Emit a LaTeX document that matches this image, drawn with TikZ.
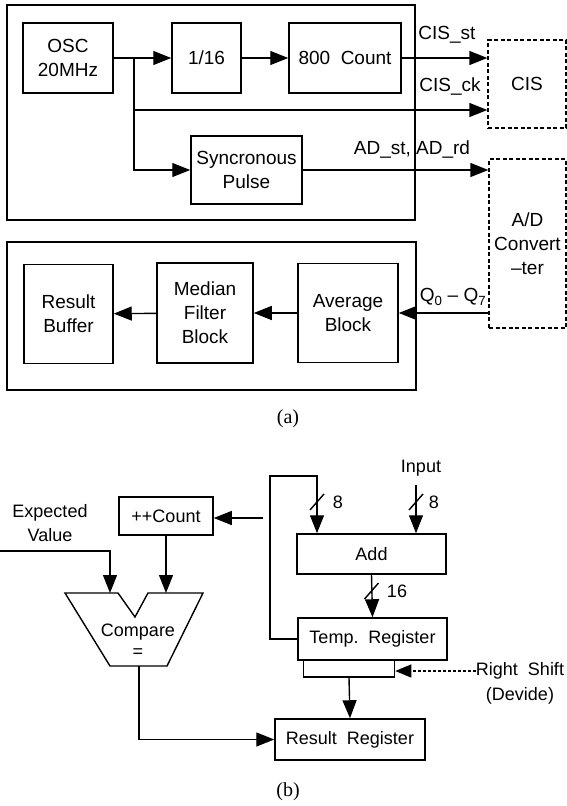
\documentclass[tikz,border=0pt]{standalone}
\usepackage{fontspec}
\setmainfont{Liberation Sans}
\newfontfamily\capfont{Liberation Serif}
\usetikzlibrary{arrows.meta}

\begin{document}
\begin{tikzpicture}[x=1pt,y=-1pt,
    font=\fontsize{19}{24}\selectfont,
    blk/.style={draw, line width=1.5pt, align=center, inner sep=0pt},
    dblk/.style={draw, line width=1.3pt, dash pattern=on 4pt off 2.5pt, align=center, inner sep=0pt},
    frm/.style={line width=1.5pt},
    wire/.style={line width=1.4pt},
    sig/.style={line width=1.4pt, -{Triangle[length=18pt,width=14pt]}},
    lbl/.style={inner sep=0pt},
    capt/.style={inner sep=0pt, font=\capfont\fontsize{20}{24}\selectfont}]
    \useasboundingbox (0,0) rectangle (567,806);
    %%(a) upper frame
    \draw[frm] (7,5) rectangle (415,220);
    \node[blk, minimum width=90pt, minimum height=70pt] (osc) at (68,58) {OSC\\20MHz};
    \node[blk, minimum width=69pt, minimum height=70pt] (div) at (206.5,58) {1/16};
    \node[blk, minimum width=112pt, minimum height=70pt] (cnt) at (345,58) {800\ \ Count};
    \node[blk, minimum width=111pt, minimum height=68pt] (syn) at (246.5,170) {Syncronous\\Pulse};
    \node[dblk, minimum width=78pt, minimum height=88pt] (cis) at (527,84) {CIS};
    \node[dblk, minimum width=77pt, minimum height=169pt] (adc) at (527.5,243.5) {A/D\\Convert\\--ter};
    \coordinate (j) at (134,58);
    \coordinate (ck) at (134,110);
    \draw[sig] (osc) -- (div);
    \draw[sig] (div) -- (cnt);
    \draw[sig] (cnt.east) -- (cnt.east -| cis.west);
    \draw[sig] (j) |- (syn.west);
    \draw[sig] (ck) -- (ck -| cis.west);
    \draw[sig] (syn.east) -- (syn.east -| adc.west);
    \node[lbl] (cisst) at (447,35) {CIS\_st};
    \node[lbl] (cisck) at (450,87) {CIS\_ck};
    \node[lbl] (adst) at (412,150) {AD\_st,\ AD\_rd};
    %%(a) lower frame
    \draw[frm] (7,242) rectangle (416,390);
    \node[blk, minimum width=89pt, minimum height=99pt] (rbuf) at (68.5,314) {Result\\Buffer};
    \node[blk, minimum width=96pt, minimum height=100pt] (med) at (205,313) {Median\\Filter\\Block};
    \node[blk, minimum width=100pt, minimum height=99pt] (avg) at (348,313) {Average\\Block};
    \draw[sig] (adc.west |- avg.east) -- (avg.east);
    \draw[sig] (avg) -- (med);
    \draw[sig] (med) -- (rbuf);
    \node[lbl] (qq) at (453,297) {Q\textsubscript{0}\ --\ Q\textsubscript{7}};
    \node[capt] (capa) at (288,419) {(a)};
    %%(b)
    \begin{scope}[font=\fontsize{18}{24}\selectfont]
    \node[lbl] (inp) at (421,468) {Input};
    \node[blk, minimum width=149pt, minimum height=40pt] (add) at (371.5,554) {Add};
    \node[blk, minimum width=149pt, minimum height=42pt] (tmp) at (372.5,639) {Temp.\ \ Register};
    \node[blk, minimum width=91pt, minimum height=17pt] (shf) at (349,668.5) {};
    \node[blk, minimum width=150pt, minimum height=41pt] (res) at (350,739.5) {Result\ \ Register};
    \node[blk, minimum width=94pt, minimum height=38pt] (pcnt) at (166,516) {++Count};
    \node[lbl] (rsh) at (520,671) {Right\ \ Shift};
    \node[lbl] (dev) at (520,696) {(Devide)};
    \node[lbl, align=center] (expv) at (50,523) {Expected\\Value};
    %%Compare
    \draw[wire] (65,593) -- (118,593) -- (135,617) -- (148,593) -- (203,593) -- (167,666) -- (110,666) -- cycle;
    \node[lbl] (cmp) at (138,632) {Compare};
    \node[lbl] (eq) at (138,653) {=};
    \coordinate (cmpa) at (110,593);
    \coordinate (cmpb) at (166,593);
    \coordinate (cmpo) at (139,666);
    %%Connectors
    \coordinate (ev) at (0,551);
    \coordinate (fb) at (263,518);
    \coordinate (lp) at (270,476);
    \coordinate (lpa) at (317,476);
    \coordinate (inx) at (416,485);
    \draw[sig] (ev) -| (cmpa);
    \draw[sig] (pcnt.south) -- (cmpb);
    \draw[sig] (fb) -- (fb -| pcnt.east);
    \draw[sig] (tmp.west) -| (lp) -- (lpa) -- (lpa |- add.north);
    \draw[sig] (inx) -- (inx |- add.north);
    \draw[sig] (add.south) -- (tmp.north);
    \draw[sig] (shf.south) -- (res.north);
    \draw[line width=1.1pt, dash pattern=on 3pt off 2pt, -{Triangle[length=16pt,width=13pt]}] (rsh.west) -- (rsh.west -| shf.east);
    \draw[sig] (cmpo) |- (res.west);
    %%Bus widths
    \draw[wire] (310,510) -- (324,494);
    \draw[wire] (409,510) -- (423,494);
    \draw[wire] (364.5,599) -- (378.5,583);
    \node[lbl] (wa) at (338,502) {8};
    \node[lbl] (wb) at (434,502) {8};
    \node[lbl] (wc) at (397,591) {16};
    \end{scope}
    \node[capt] (capb) at (288,792) {(b)};
\end{tikzpicture}
\end{document}
